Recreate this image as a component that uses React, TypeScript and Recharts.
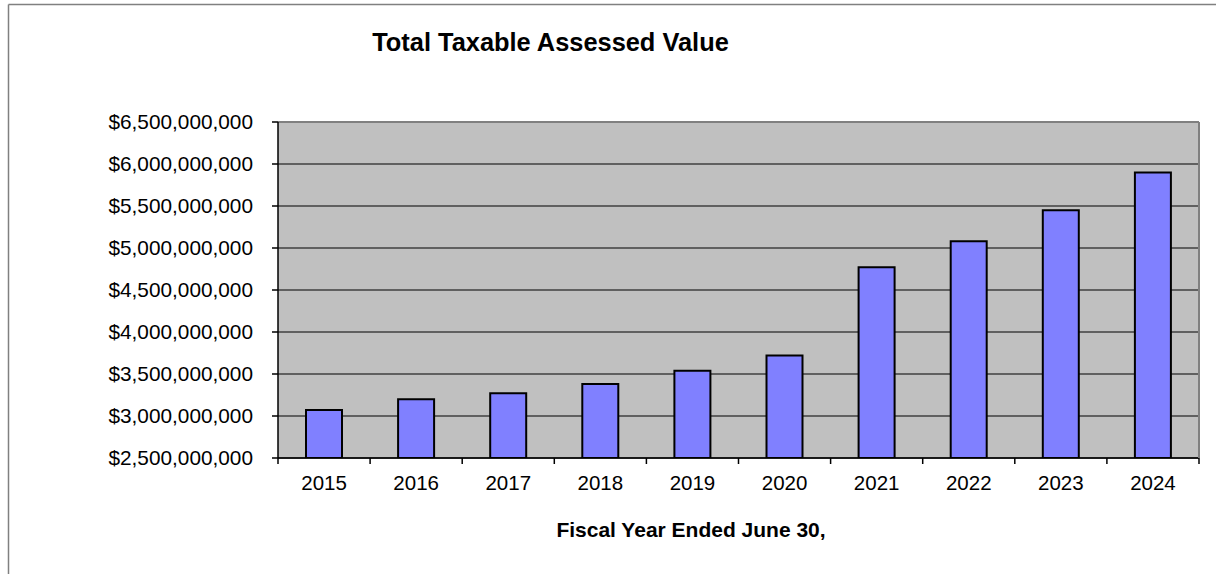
import { Bar, BarChart, CartesianGrid, ReferenceLine, XAxis, YAxis } from "recharts";

const years = ["2015", "2016", "2017", "2018", "2019", "2020", "2021", "2022", "2023", "2024"];
const assessedValue = [
    3.07e9, 3.2e9, 3.27e9, 3.38e9, 3.54e9, 3.72e9, 4.77e9, 5.08e9, 5.45e9, 5.9e9,
];
const yTicks = [2.5e9, 3e9, 3.5e9, 4e9, 4.5e9, 5e9, 5.5e9, 6e9, 6.5e9];

const data = years.map((year, i) => ({ year, value: assessedValue[i] }));

const font = "'Liberation Sans', Arial, sans-serif";
const money = (v: number) => "$" + v.toLocaleString("en-US");
const LABEL_GAP = 17;

// year label plus Excel-style tick marks on the category boundaries
function YearTick(props: any) {
    const { x, y, payload, index, width, visibleTicksCount } = props;
    const half = payload?.offset > 0 ? payload.offset : width / visibleTicksCount / 2;
    const top = y - LABEL_GAP;
    return (
        <g>
            <line x1={x - half} x2={x - half} y1={top} y2={top + 6} stroke="#000" strokeWidth={1.5} />
            {index === visibleTicksCount - 1 && (
                <line x1={x + half} x2={x + half} y1={top} y2={top + 6} stroke="#000" strokeWidth={1.5} />
            )}
            <text x={x} y={y} dy="0.71em" textAnchor="middle" fontSize={20.5} fontFamily={font} fill="#000">
                {payload.value}
            </text>
        </g>
    );
}

export default function App() {
    return (
        <div style={{ position: "absolute", left: 0, top: 0, width: 1216, height: 574, background: "#fff", overflow: "hidden" }}>
            <svg width={1216} height={574} style={{ position: "absolute", left: 0, top: 0 }}>
                <line x1={8.5} y1={4.5} x2={1216} y2={4.5} stroke="#808080" strokeWidth={1.5} />
                <line x1={8.5} y1={4.5} x2={8.5} y2={574} stroke="#808080" strokeWidth={1.5} />
                <text x={550.5} y={50.7} textAnchor="middle" fontFamily={font} fontWeight="bold" fontSize={25.4} fill="#000">
                    Total Taxable Assessed Value
                </text>
                <text x={691} y={536.5} textAnchor="middle" fontFamily={font} fontWeight="bold" fontSize={21} fill="#000">
                    Fiscal Year Ended June 30,
                </text>
            </svg>
            <div style={{ position: "absolute", left: 0, top: 0 }}>
                <BarChart
                    width={1216}
                    height={574}
                    data={data}
                    margin={{ top: 122, right: 0, left: 0, bottom: 76 }}
                    barSize={36}
                >
                    <CartesianGrid vertical={false} stroke="#404040" strokeWidth={1.5} fill="#C0C0C0" />
                    <XAxis
                        dataKey="year"
                        height={40}
                        interval={0}
                        tickLine={false}
                        tickSize={0}
                        tickMargin={LABEL_GAP}
                        axisLine={{ stroke: "#000", strokeWidth: 1.5 }}
                        tick={<YearTick />}
                    />
                    <YAxis
                        width={278}
                        domain={[2.5e9, 6.5e9]}
                        ticks={yTicks}
                        tickFormatter={money}
                        tickSize={6}
                        tickMargin={19}
                        axisLine={{ stroke: "#000", strokeWidth: 1.5 }}
                        tickLine={{ stroke: "#000", strokeWidth: 1.5 }}
                        tick={{ fill: "#000", fontSize: 20.8, fontFamily: font }}
                        allowDataOverflow
                    />
                    <YAxis
                        yAxisId="frame"
                        orientation="right"
                        width={17}
                        domain={[2.5e9, 6.5e9]}
                        tick={false}
                        tickLine={false}
                        axisLine={{ stroke: "#808080", strokeWidth: 2 }}
                    />
                    <ReferenceLine y={6.5e9} stroke="#808080" strokeWidth={2} />
                    <Bar
                        dataKey="value"
                        fill="#8080FF"
                        stroke="#000"
                        strokeWidth={2}
                        isAnimationActive={false}
                    />
                </BarChart>
            </div>
        </div>
    );
}
